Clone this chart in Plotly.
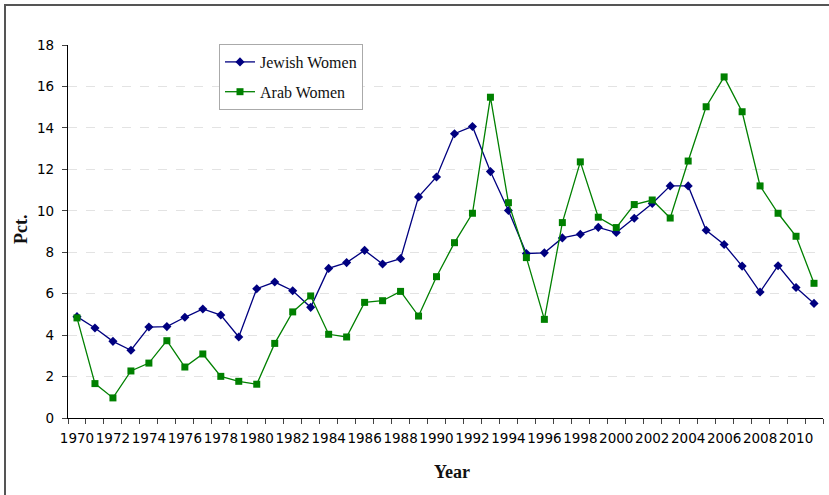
import plotly.graph_objects as go

years = list(range(1970, 2012))
jewish = [4.89, 4.34, 3.70, 3.27, 4.39, 4.41, 4.86, 5.26, 4.97, 3.91,
          6.24, 6.56, 6.14, 5.34, 7.22, 7.50, 8.09, 7.43, 7.69, 10.67,
          11.63, 13.72, 14.07, 11.89, 10.01, 7.94, 7.97, 8.69, 8.87, 9.20,
          8.95, 9.64, 10.35, 11.20, 11.20, 9.06, 8.37, 7.33, 6.08, 7.35,
          6.30, 5.53]
arab = [4.83, 1.66, 0.97, 2.27, 2.65, 3.73, 2.46, 3.09, 2.01, 1.77,
        1.63, 3.60, 5.12, 5.89, 4.04, 3.91, 5.58, 5.66, 6.11, 4.92,
        6.82, 8.46, 9.88, 15.48, 10.39, 7.74, 4.76, 9.43, 12.36, 9.69,
        9.19, 10.30, 10.52, 9.65, 12.40, 15.02, 16.46, 14.78, 11.20, 9.88,
        8.77, 6.50]
tick_years = list(range(1970, 2011, 2))
y_ticks = list(range(0, 19, 2))

W, H = 829, 495
L, R, T, B = 68, 6, 45, 77
pw, ph = W - L - R, H - T - B

def px_x(p):
    return (p - L) / pw

def px_y(p):
    return (H - B - p) / ph

fig = go.Figure()
fig.add_trace(go.Scatter(
    x=years, y=jewish, name="Jewish Women", mode="lines+markers",
    line=dict(color="#000080", width=1.3),
    marker=dict(symbol="diamond", size=7, color="#000080"),
    legendgroup="a"))
fig.add_trace(go.Scatter(
    x=years, y=arab, name="Arab Women", mode="lines+markers",
    line=dict(color="#008000", width=1.3),
    marker=dict(symbol="square", size=7, color="#008000"),
    legendgroup="b"))

tickfont = dict(family="DejaVu Sans", size=13.5, color="#000")

fig.update_layout(
    width=W, height=H,
    margin=dict(l=L, r=R, t=T, b=B, pad=0),
    paper_bgcolor="white", plot_bgcolor="white",
    showlegend=True,
    legend=dict(x=px_x(219), y=px_y(44), xanchor="left", yanchor="top",
                bgcolor="white", bordercolor="#aaaaaa", borderwidth=1,
                font=dict(family="Liberation Serif", size=16, color="#111"),
                traceorder="grouped", tracegroupgap=6, itemwidth=30),
    xaxis=dict(range=[1969.5, 2011.5], tickvals=tick_years,
               ticktext=[str(y) for y in tick_years], tickangle=0,
               ticks="outside", ticklen=5, tickcolor="rgba(0,0,0,0)",
               showline=True, linecolor="black", linewidth=1.2,
               showgrid=False, zeroline=False, tickfont=tickfont,
               ticklabelstandoff=3,
               minor=dict(ticks="outside", ticklen=5, tick0=1969.5, dtick=1,
                          tickcolor="#444", showgrid=False)),
    yaxis=dict(range=[0, 18], tickvals=y_ticks, ticks="outside", ticklen=5,
               tickcolor="#444", showline=True, linecolor="black", linewidth=1.2,
               showgrid=True, gridcolor="#e3e3e3", griddash="dash", gridwidth=1,
               zeroline=False, tickfont=tickfont, ticklabelstandoff=5),
    annotations=[
        dict(text="<b>Pct.</b>", xref="paper", yref="paper", x=px_x(21), y=px_y(230),
             xanchor="center", yanchor="middle",
             showarrow=False, textangle=-90,
             font=dict(family="Liberation Serif", size=18, color="#111")),
        dict(text="<b>Year</b>", xref="paper", yref="paper", x=px_x(452), y=px_y(472),
             xanchor="center", yanchor="middle",
             showarrow=False,
             font=dict(family="Liberation Serif", size=18, color="#111")),
    ],
    shapes=[dict(type="rect", xref="paper", yref="paper",
                 x0=px_x(5), x1=px_x(840), y0=px_y(5), y1=px_y(510),
                 line=dict(color="#555555", width=2), layer="below")],
)

fig.write_html("out.html", config={"displayModeBar": False},
               post_script="document.body.style.margin='0px';document.body.style.overflow='hidden';")
